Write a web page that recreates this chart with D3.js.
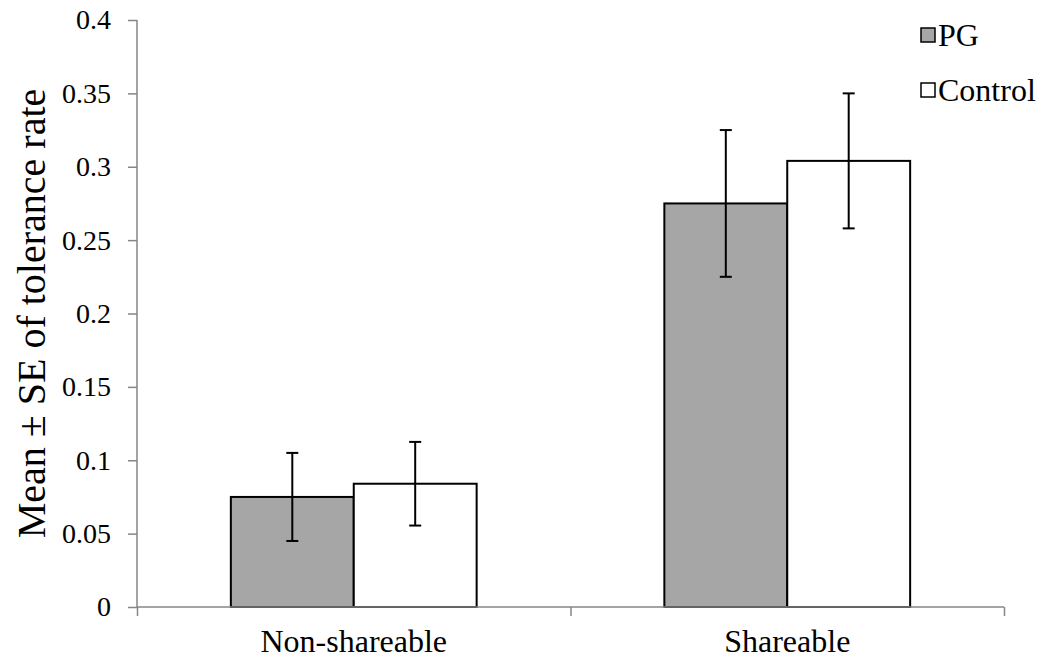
<!DOCTYPE html>
<html>
<head>
<meta charset="utf-8">
<script src="https://cdn.jsdelivr.net/npm/d3@7"></script>
<style>
  body { margin: 0; background: #fff; }
</style>
</head>
<body>
<svg id="chart" width="1051" height="662"></svg>
<script>
// data
const categories = ["Non-shareable", "Shareable"];
const groups = ["PG", "Control"];
const pgMean = [0.075, 0.275];
const pgSE = [0.030, 0.050];
const controlMean = [0.084, 0.304];
const controlSE = [0.0285, 0.046];
const yTicks = [0, 0.05, 0.1, 0.15, 0.2, 0.25, 0.3, 0.35, 0.4];
const colors = { PG: "#a6a6a6", Control: "#ffffff" };
const FONT = "Liberation Serif";

let margin = { top: 20, right: 47, bottom: 55, left: 137 },
    width = 1051 - margin.left - margin.right,
    height = 662 - margin.top - margin.bottom;

let rows = categories.map(function (c, i) {
  return { cat: c, vals: [
    { g: "PG", mean: pgMean[i], se: pgSE[i] },
    { g: "Control", mean: controlMean[i], se: controlSE[i] }
  ] };
});

let svg = d3.select("#chart");
let chart = svg.append("g")
  .attr("transform", "translate(" + margin.left + "," + margin.top + ")");

let x0 = d3.scaleBand().domain(categories).range([0, width]).paddingInner(0.433).paddingOuter(0.2165);
let x1 = d3.scaleBand().domain(groups).range([0, x0.bandwidth()]);
let y = d3.scaleLinear().domain([0, 0.4]).range([height, 0]);

// y axis
let yAxis = chart.append("g")
  .call(d3.axisLeft(y).tickValues(yTicks).tickSize(9).tickPadding(17).tickFormat(d3.format("")));
yAxis.selectAll("line, path").attr("stroke", "#868686").attr("stroke-width", 1.5);
yAxis.select(".domain").attr("d", "M0," + height + "V0");
yAxis.selectAll("text").attr("dy", "0.32em").attr("fill", "#000")
  .style("font-family", FONT).style("font-size", "28px");

// bars
let cat = chart.selectAll(".cat").data(rows).enter().append("g")
  .attr("transform", function (d) { return "translate(" + x0(d.cat) + ",0)"; });

cat.selectAll("rect").data(function (d) { return d.vals; }).enter().append("rect")
  .attr("x", function (d) { return x1(d.g); })
  .attr("width", x1.bandwidth())
  .attr("y", function (d) { return y(d.mean); })
  .attr("height", function (d) { return height - y(d.mean); })
  .attr("fill", function (d) { return colors[d.g]; })
  .attr("stroke", "#000")
  .attr("stroke-width", 2);

// error bars
let err = cat.selectAll(".err").data(function (d) { return d.vals; }).enter().append("g")
  .attr("stroke", "#000").attr("stroke-width", 2);
err.append("line")
  .attr("x1", function (d) { return x1(d.g) + x1.bandwidth() / 2; })
  .attr("x2", function (d) { return x1(d.g) + x1.bandwidth() / 2; })
  .attr("y1", function (d) { return y(d.mean + d.se); })
  .attr("y2", function (d) { return y(d.mean - d.se); });
[1, -1].forEach(function (s) {
  err.append("line")
    .attr("x1", function (d) { return x1(d.g) + x1.bandwidth() / 2 - 6; })
    .attr("x2", function (d) { return x1(d.g) + x1.bandwidth() / 2 + 6; })
    .attr("y1", function (d) { return y(d.mean + s * d.se); })
    .attr("y2", function (d) { return y(d.mean + s * d.se); });
});

// x axis with ticks at category boundaries
let xb = d3.scaleLinear().domain([0, categories.length]).range([0, width]);
let xAxis = chart.append("g").attr("transform", "translate(0," + height + ")")
  .call(d3.axisBottom(xb).ticks(categories.length).tickSize(9).tickFormat(""));
xAxis.selectAll("line, path").attr("stroke", "#868686").attr("stroke-width", 1.5);
xAxis.select(".domain").attr("d", "M0,0H" + width);

chart.selectAll(".catlabel").data(categories).enter().append("text")
  .attr("x", function (d) { return x0(d) + x0.bandwidth() / 2; })
  .attr("y", height + 45)
  .attr("text-anchor", "middle")
  .attr("fill", "#000")
  .style("font-family", FONT).style("font-size", "32px")
  .text(function (d) { return d; });

// y label
svg.append("text")
  .attr("transform", "translate(45," + (margin.top + height / 2) + ") rotate(-90)")
  .attr("text-anchor", "middle")
  .attr("fill", "#000")
  .style("font-family", FONT).style("font-size", "40px")
  .text("Mean ± SE of tolerance rate");

// legend
let legend = svg.selectAll(".legend").data(groups).enter().append("g")
  .attr("transform", function (d, i) { return "translate(921," + (28 + i * 55) + ")"; });
legend.append("rect")
  .attr("width", 14).attr("height", 14)
  .attr("fill", function (d) { return colors[d]; })
  .attr("stroke", "#000").attr("stroke-width", 1.5);
legend.append("text")
  .attr("x", 17).attr("y", 18)
  .attr("fill", "#000")
  .style("font-family", FONT).style("font-size", "32px")
  .text(function (d) { return d; });
</script>
</body>
</html>
